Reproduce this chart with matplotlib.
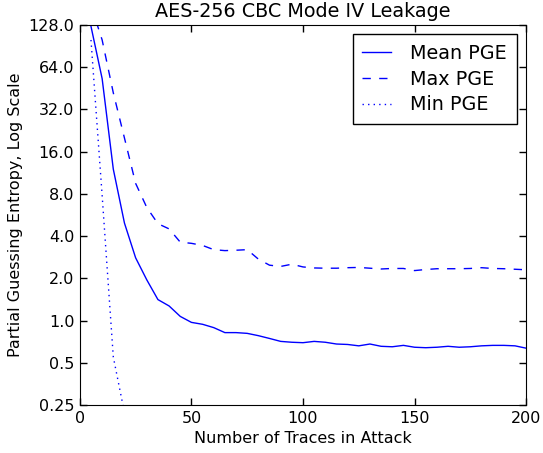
import numpy as np
import matplotlib
matplotlib.use("Agg")
import matplotlib.pyplot as plt
from matplotlib.ticker import FixedLocator, NullLocator

# number of traces used in the attack
traces = [5, 10, 15, 20, 25, 30, 35, 40, 45, 50,
          55, 60, 65, 70, 75, 80, 85, 90, 95, 100,
          105, 110, 115, 120, 125, 130, 135, 140, 145, 150,
          155, 160, 165, 170, 175, 180, 185, 190, 195, 200]

# partial guessing entropy
mean_pge = [125, 53, 12.0, 4.95, 2.8, 1.95, 1.41, 1.27, 1.07, 0.97,
            0.94, 0.89, 0.82, 0.82, 0.81, 0.78, 0.745, 0.71, 0.70, 0.695,
            0.71, 0.70, 0.68, 0.675, 0.66, 0.68, 0.655, 0.65, 0.665, 0.645,
            0.64, 0.645, 0.655, 0.645, 0.65, 0.66, 0.665, 0.665, 0.66, 0.635]
max_pge = [176, 100, 42, 20.0, 9.5, 6.4, 4.9, 4.5, 3.62, 3.55,
           3.43, 3.2, 3.15, 3.17, 3.2, 2.74, 2.48, 2.43, 2.52, 2.41,
           2.37, 2.36, 2.36, 2.38, 2.39, 2.36, 2.33, 2.35, 2.35, 2.27,
           2.31, 2.34, 2.34, 2.34, 2.35, 2.38, 2.35, 2.34, 2.32, 2.30]
min_traces = [5, 10, 15, 20]
min_pge = [100, 7.8, 0.55, 0.22]

ytick_vals = [0.25, 0.5, 1, 2, 4, 8, 16, 32, 64, 128]
ytick_labels = ["0.25", "0.5", "1.0", "2.0", "4.0", "8.0", "16.0", "32.0", "64.0", "128.0"]

plt.rcParams["font.family"] = "DejaVu Sans"
plt.rcParams["xtick.direction"] = "in"
plt.rcParams["ytick.direction"] = "in"

fig = plt.figure(figsize=(5.43, 4.53), dpi=100)
ax = fig.add_axes([0.147, 0.106, 0.822, 0.839])

ax.plot(traces, mean_pge, color="b", lw=1.0, label="Mean PGE")
ax.plot(traces, max_pge, color="b", lw=1.0, dashes=(6, 6), label="Max PGE")
ax.plot(min_traces, min_pge, color="b", lw=1.0, dashes=(1, 3), label="Min PGE")

ax.set_yscale("log", base=2)
ax.set_ylim(0.25, 128)
ax.set_xlim(0, 200)
ax.yaxis.set_major_locator(FixedLocator(ytick_vals))
ax.set_yticklabels(ytick_labels)
ax.yaxis.set_minor_locator(NullLocator())
ax.set_xticks([0, 50, 100, 150, 200])
ax.tick_params(which="both", top=True, right=True, labelsize=11.5, length=5, width=1, pad=4)

ax.set_title("AES-256 CBC Mode IV Leakage", fontsize=13.8)
ax.set_xlabel("Number of Traces in Attack", fontsize=11.5)
ax.set_ylabel("Partial Guessing Entropy, Log Scale", fontsize=11.5)

leg = ax.legend(loc="upper right", fontsize=13.8, fancybox=False, framealpha=1,
                handlelength=1.5, handletextpad=1.0, borderpad=0.5,
                labelspacing=0.35, borderaxespad=0.5)
leg.get_frame().set_edgecolor("black")

fig.savefig("out.png", dpi=100)
